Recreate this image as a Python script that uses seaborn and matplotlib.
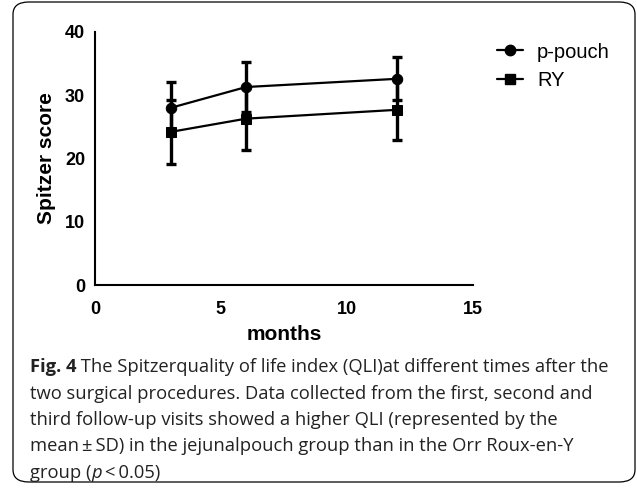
import numpy as np
import pandas as pd
import matplotlib
matplotlib.use("Agg")
import matplotlib.pyplot as plt
import seaborn as sns
from matplotlib.patches import FancyBboxPatch
from matplotlib.lines import Line2D

# data
months = [3, 6, 12]
pouch_mean = [28.0, 31.3, 32.6]
pouch_sd = [4.1, 4.0, 3.4]
ry_mean = [24.2, 26.3, 27.7]
ry_sd = [5.0, 4.9, 4.8]
groups = ["p-pouch", "RY"]

df = pd.DataFrame({
    "months": months * 2,
    "score": pouch_mean + ry_mean,
    "sd": pouch_sd + ry_sd,
    "group": ["p-pouch"] * 3 + ["RY"] * 3,
})

sns.set_theme(style="white")
plt.rcParams["font.family"] = ["Liberation Sans", "DejaVu Sans"]
plt.rcParams["text.color"] = "black"
plt.rcParams["xtick.color"] = "black"
plt.rcParams["ytick.color"] = "black"
plt.rcParams["axes.labelcolor"] = "black"

fig = plt.figure(figsize=(6.37, 4.92), dpi=100)
ax = fig.add_axes([0.149, 0.4207, 0.5935, 0.5143])

sns.lineplot(data=df, x="months", y="score", style="group",
             markers={"p-pouch": "o", "RY": "s"}, dashes=False,
             color="black", linewidth=1.6, markersize=7.5,
             markeredgecolor="black", legend=False, ax=ax)

for g in groups:
    sub = df[df["group"] == g]
    ax.errorbar(sub["months"], sub["score"], yerr=sub["sd"], fmt="none",
                ecolor="black", elinewidth=2.4, capsize=3.8, capthick=2.4)

ax.set_xlim(0, 15)
ax.set_ylim(0, 40)
ax.set_xticks([0, 5, 10, 15])
ax.set_yticks([0, 10, 20, 30, 40])
for s in ["top", "right"]:
    ax.spines[s].set_visible(False)
for s in ["left", "bottom"]:
    ax.spines[s].set_linewidth(1.5)
    ax.spines[s].set_color("black")
ax.tick_params(axis="both", direction="out", length=5, width=1.5,
               color="black", labelsize=13, pad=2)
ax.tick_params(axis="x", pad=6.5)
for lab in ax.get_xticklabels() + ax.get_yticklabels():
    lab.set_fontweight("bold")
ax.set_xlabel("months", fontsize=15, fontweight="bold", labelpad=5)
ax.set_ylabel("Spitzer score", fontsize=15, fontweight="bold", labelpad=6.5)
ax.set_facecolor("white")

handles = [Line2D([], [], color="black", lw=1.6, marker="o", markersize=7.5),
           Line2D([], [], color="black", lw=1.6, marker="s", markersize=7.5)]
ax.legend(handles, groups, loc="upper left", bbox_to_anchor=(1.015, 1.03),
          frameon=False, fontsize=14.5, handlelength=1.3, handletextpad=0.7,
          labelspacing=0.45)

# rounded frame around figure + caption
W, H = 637, 492
frame = FancyBboxPatch((13 / W, 10 / H), 622 / W, 480 / H,
                       boxstyle="round,pad=0,rounding_size=0.025",
                       transform=fig.transFigure, fill=False,
                       edgecolor="black", linewidth=0.9)
fig.patches.append(frame)

cap_lines = [
    [("Fig. 4", "bold", "normal"), (" The Spitzerquality of life index (QLI)at different times after the", "normal", "normal")],
    [("two surgical procedures. Data collected from the first, second and", "normal", "normal")],
    [("third follow-up visits showed a higher QLI (represented by the", "normal", "normal")],
    [("mean\u2009\u00b1\u2009SD) in the jejunalpouch group than in the Orr Roux-en-Y", "normal", "normal")],
    [("group (", "normal", "normal"), ("p", "normal", "italic"), ("\u2009<\u20090.05)", "normal", "normal")],
]
line_y = [367, 394, 420, 446, 473]

fig.canvas.draw()
renderer = fig.canvas.get_renderer()
for pieces, yy in zip(cap_lines, line_y):
    x = 30 / W
    for txt, wt, st in pieces:
        t = fig.text(x, 1 - yy / H, txt, fontsize=13.2, fontweight=wt,
                     fontstyle=st, family=["Open Sans", "DejaVu Sans"],
                     va="center", ha="left", color="#222222")
        bb = t.get_window_extent(renderer=renderer)
        x += bb.width / W

fig.savefig("out.png", dpi=100, facecolor="white")
